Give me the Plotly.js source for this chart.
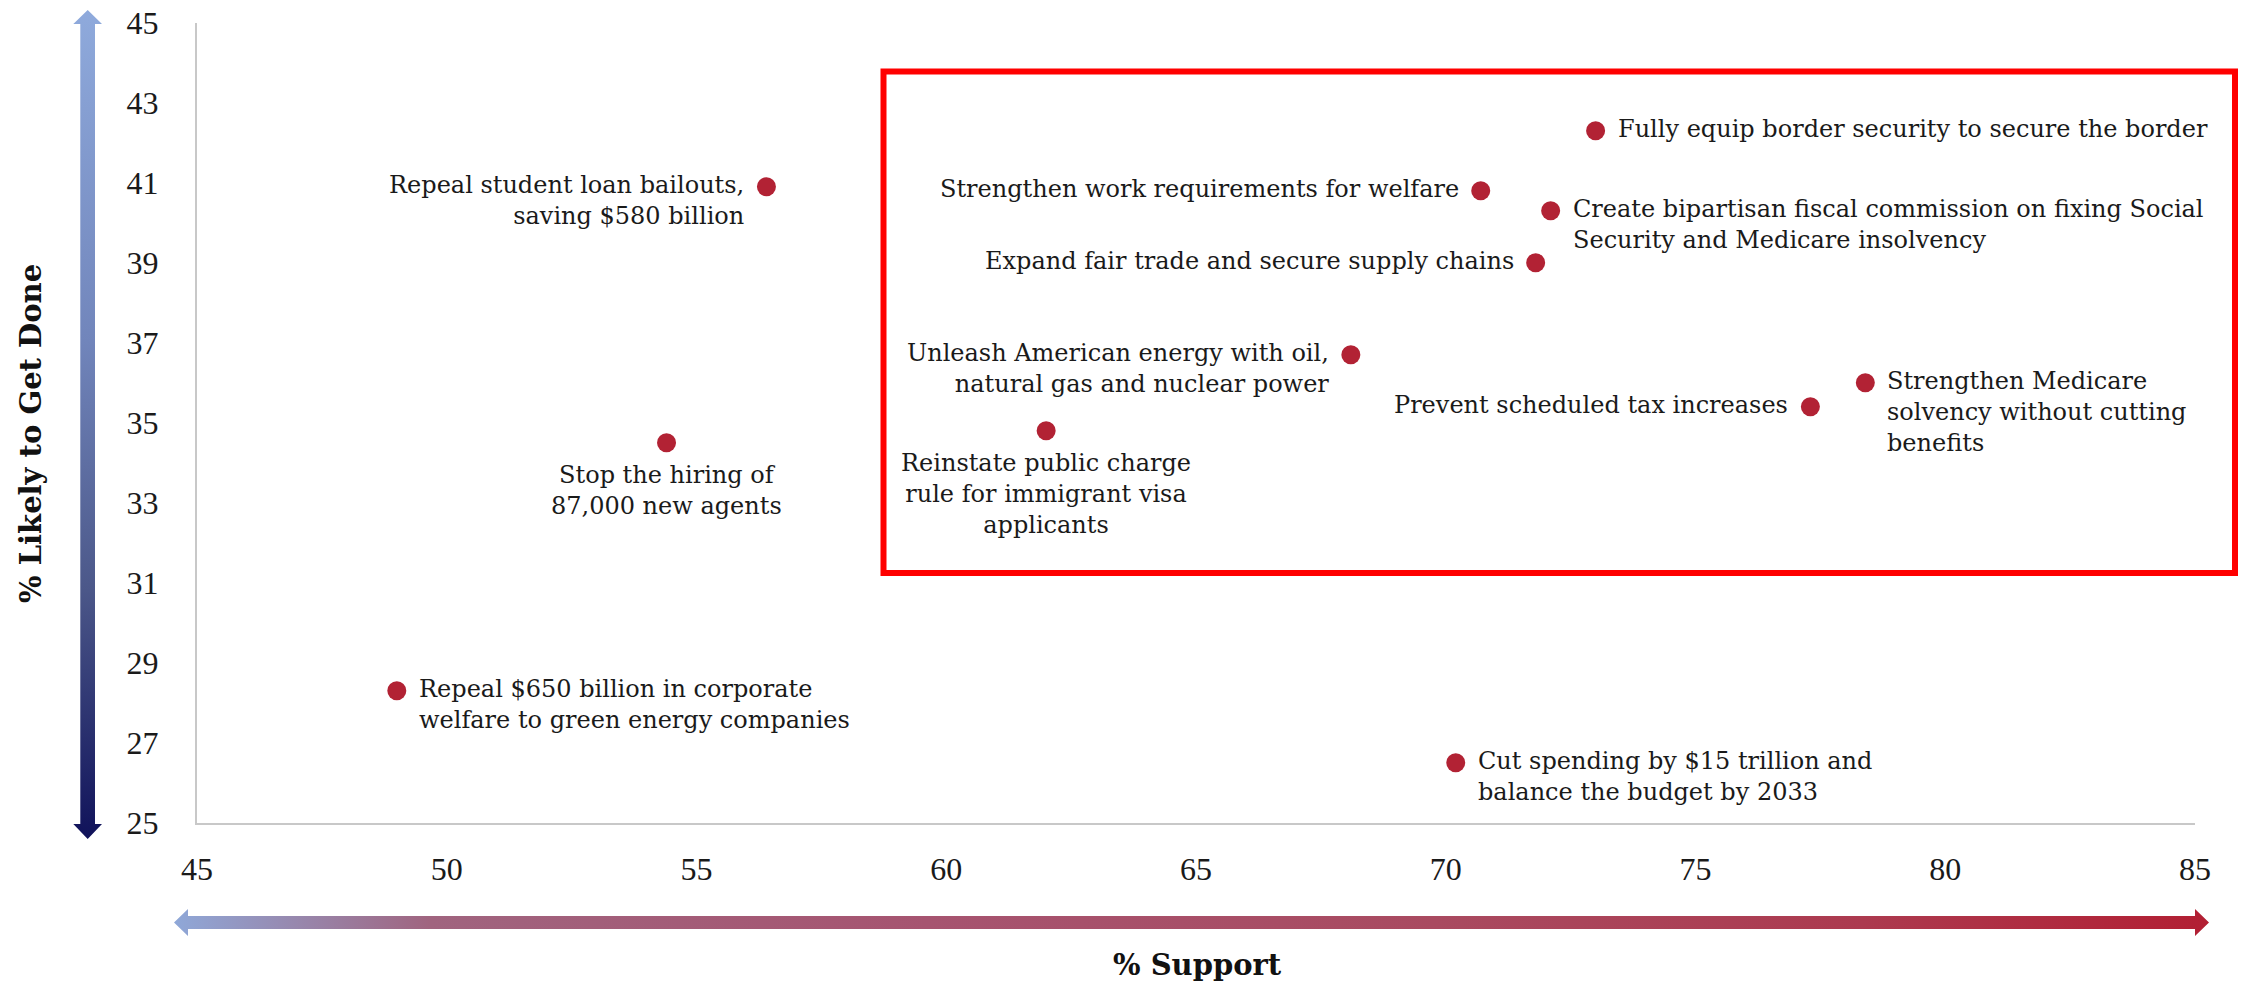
<!DOCTYPE html>
<html>
<head>
<meta charset="utf-8">
<script src="https://cdn.plot.ly/plotly-3.0.1.min.js"></script>
<style>
  html, body { margin: 0; padding: 0; background: #fff; }
  #chart { width: 2241px; height: 987px; }
</style>
</head>
<body>
<div id="chart"></div>
<script>
// policy proposals: % support (x) vs % likely to get done (y)
var policies = [
  'Repeal student loan bailouts,<br>saving $580 billion',
  'Stop the hiring of<br>87,000 new agents',
  'Repeal $650 billion in corporate<br>welfare to green energy companies',
  'Cut spending by $15 trillion and<br>balance the budget by 2033',
  'Fully equip border security to secure the border',
  'Strengthen work requirements for welfare',
  'Create bipartisan fiscal commission on fixing Social<br>Security and Medicare insolvency',
  'Expand fair trade and secure supply chains',
  'Unleash American energy with oil,<br>natural gas and nuclear power',
  'Reinstate public charge<br>rule for immigrant visa<br>applicants',
  'Prevent scheduled tax increases',
  'Strengthen Medicare<br>solvency without cutting<br>benefits'
];
var support = [56.4, 54.4, 49.0, 70.2, 73.0, 70.7, 72.1, 71.8, 68.1, 62.0, 77.3, 78.4];
var likely  = [40.9, 34.5, 28.3, 26.5, 42.3, 40.8, 40.3, 39.0, 36.7, 34.8, 35.4, 36.0];
var xTicks = [45, 50, 55, 60, 65, 70, 75, 80, 85];
var yTicks = [25, 27, 29, 31, 33, 35, 37, 39, 41, 43, 45];

// where each label sits relative to its dot: l = left, r = right, b = below
var labelSide = ['l', 'b', 'r', 'r', 'r', 'l', 'r', 'l', 'l', 'b', 'l', 'r'];

var W = 2241, H = 987;
var labelFont = {family: 'DejaVu Serif', size: 24, color: '#1a1a1a'};
var tickFont = {family: 'Liberation Serif', size: 32, color: '#1a1a1a'};
var titleFont = {family: 'DejaVu Serif', size: 29, color: '#111'};

var dots = {
  x: support, y: likely, text: policies,
  type: 'scatter', mode: 'markers',
  marker: {size: 19, color: '#b22234'},
  hoverinfo: 'text', showlegend: false
};

// gradient arrows, drawn in a pixel-space overlay (x2/y2 cover the whole figure)
var vArrow = {
  x: [80.3, 80.3, 73.3, 87.7, 102, 95, 95, 102, 87.7, 73.3, 80.3],
  y: [24, 824, 824, 839, 824, 824, 24, 24, 10, 24, 24],
  xaxis: 'x2', yaxis: 'y2', type: 'scatter', mode: 'lines',
  line: {width: 0}, fill: 'toself',
  fillgradient: {type: 'vertical', colorscale: [[0, '#10125a'], [0.3, '#4b5789'], [0.6, '#7185bb'], [1, '#8faadc']]},
  hoverinfo: 'skip', showlegend: false
};
var hArrow = {
  x: [174, 188, 188, 2195, 2195, 2209, 2195, 2195, 188, 188, 174],
  y: [922.5, 909, 916, 916, 909, 922.5, 936, 929, 929, 936, 922.5],
  xaxis: 'x2', yaxis: 'y2', type: 'scatter', mode: 'lines',
  line: {width: 0}, fill: 'toself',
  fillgradient: {type: 'horizontal', colorscale: [[0, '#8fa8d8'], [0.126, '#a0647f'], [0.37, '#a65470'], [0.62, '#a94a60'], [0.83, '#ac3a4f'], [1, '#b21f33']]},
  hoverinfo: 'skip', showlegend: false
};

var annotations = policies.map(function (t, i) {
  var s = labelSide[i];
  var a = {
    x: support[i], y: likely[i], xref: 'x', yref: 'y',
    text: t, showarrow: false, font: labelFont,
    yanchor: 'top'
  };
  if (s === 'l') { a.xanchor = 'right'; a.align = 'right'; a.xshift = -20; a.yshift = 18; }
  if (s === 'r') { a.xanchor = 'left'; a.align = 'left'; a.xshift = 20; a.yshift = 18; }
  if (s === 'b') { a.xanchor = 'center'; a.align = 'center'; a.yshift = -16; }
  return a;
});
annotations.push({
  text: '<b>% Support</b>', xref: 'paper', yref: 'paper',
  x: 1197 / W, y: 1 - 965 / H, xanchor: 'center', yanchor: 'middle',
  showarrow: false, font: titleFont
});
annotations.push({
  text: '<b>% Likely to Get Done</b>', xref: 'paper', yref: 'paper',
  x: 31 / W, y: 1 - 434 / H, xanchor: 'center', yanchor: 'middle',
  textangle: -90, showarrow: false, font: titleFont
});

var layout = {
  width: W, height: H,
  margin: {l: 0, r: 0, t: 0, b: 0},
  paper_bgcolor: '#fff', plot_bgcolor: 'rgba(0,0,0,0)',
  showlegend: false,
  xaxis: {
    domain: [197 / W, 2195 / W], range: [45, 85],
    tickvals: xTicks, ticks: '', ticklabelstandoff: 17,
    tickfont: tickFont, showgrid: false, zeroline: false,
    showline: true, linecolor: '#c8c8c8', linewidth: 2
  },
  yaxis: {
    domain: [1 - 822.7 / H, 1 - 22.7 / H], range: [25, 45],
    tickvals: yTicks, ticks: '', ticklabelstandoff: 30,
    tickfont: tickFont, showgrid: false, zeroline: false,
    showline: true, linecolor: '#c8c8c8', linewidth: 2
  },
  xaxis2: {domain: [0, 1], range: [0, W], visible: false, fixedrange: true},
  yaxis2: {domain: [0, 1], range: [H, 0], visible: false, fixedrange: true, anchor: 'x2'},
  shapes: [{
    type: 'rect', xref: 'x2', yref: 'y2',
    x0: 883.5, x1: 2235, y0: 71.5, y1: 573,
    line: {color: '#ff0000', width: 6}, fillcolor: 'rgba(0,0,0,0)'
  }],
  annotations: annotations
};

Plotly.newPlot('chart', [vArrow, hArrow, dots], layout, {displayModeBar: false, staticPlot: true});
</script>
</body>
</html>
